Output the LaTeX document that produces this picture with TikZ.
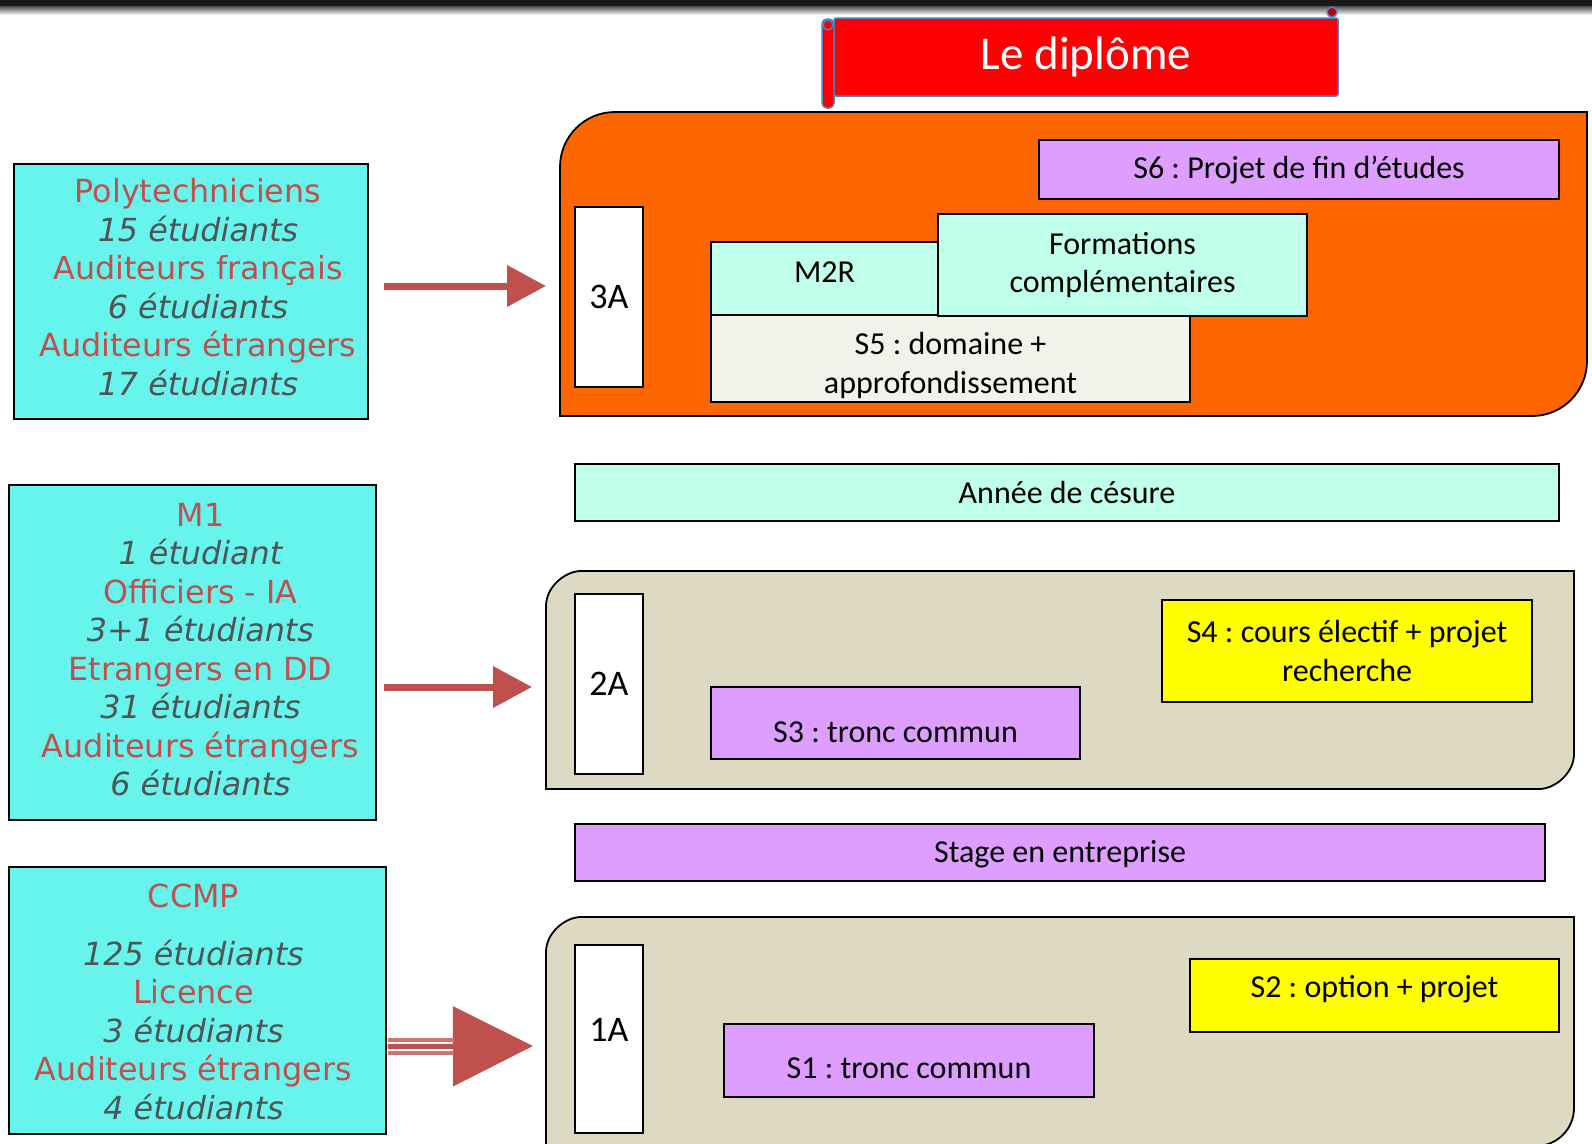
\documentclass[tikz,border=0pt]{standalone}
\usepackage{fontspec}
\setmainfont{Carlito}
\newfontfamily\verdfont{DejaVu Sans}
\usetikzlibrary{arrows.meta,positioning}
\definecolor{orangebg}{RGB}{255,102,0}
\definecolor{beigebg}{RGB}{221,217,195}
\definecolor{cyanbox}{RGB}{103,244,236}
\definecolor{aquabox}{RGB}{193,255,237}
\definecolor{lilacbox}{RGB}{222,158,255}
\definecolor{creambox}{RGB}{242,242,235}
\definecolor{yellowbox}{RGB}{255,255,0}
\definecolor{arrowred}{RGB}{192,80,77}
\definecolor{cohortgray}{RGB}{80,84,84}
\definecolor{scrollblue}{RGB}{79,129,189}
\newcommand{\grp}[1]{\textcolor{arrowred}{#1}}
\newcommand{\nbr}[1]{\textcolor{cohortgray}{\itshape #1}}
\frenchspacing
\tikzset{
  cohort/.style={rectangle,draw=black,line width=1.5pt,fill=cyanbox,inner sep=0pt},
  cohorttext/.style={inner sep=0pt,align=center,
    font=\verdfont\fontsize{31.8}{38.5}\selectfont},
  yearbox/.style={rectangle,draw=black,line width=1.5pt,fill=white,
    inner sep=0pt,minimum width=68pt,font=\fontsize{36}{40}\selectfont},
  semester/.style={rectangle,draw=black,line width=1.8pt,inner sep=0pt,
    align=center,font=\fontsize{32}{38.3}\selectfont},
  container/.style={draw=black,line width=1.8pt},
  fatarrow/.style={draw=arrowred,line width=7pt,
    -{Triangle[length=39pt,width=40pt]}}
}

\begin{document}
\begin{tikzpicture}[x=1pt,y=-1pt]
  \useasboundingbox (0,0) rectangle (1592,1143);
  % bar along the top
  \fill[black!90] (0,0) rectangle (1592,6);
  \shade[top color=black!70,bottom color=white] (0,6) rectangle (1592,15);

  % title scroll
  \node[rectangle,fill=red,draw=scrollblue,line width=1.5pt,rounded corners=2pt,
    minimum width=504pt,minimum height=78pt,text=white,
    font=\fontsize{47}{50}\selectfont] (titre) at (1086,57) {Le diplôme};
  \draw[fill=red,draw=scrollblue,line width=1.5pt,rounded corners=5pt]
    (822,19) rectangle (834,108);
  \draw[draw=scrollblue,line width=1.5pt] (828,25) circle (5pt);
  \draw[fill=red!75!black,draw=scrollblue,line width=1.5pt] (1332,12) circle (5pt);

  % year containers
  \draw[container,fill=orangebg]
    (560,416) -- (560,167) .. controls (560,136.6) and (584.6,112) .. (615,112)
    -- (1587,112) -- (1587,361) .. controls (1587,391.4) and (1562.4,416) .. (1532,416)
    -- cycle;
  \draw[container,fill=beigebg]
    (546,789) -- (546,606) .. controls (546,586.7) and (565.3,571) .. (581,571)
    -- (1574,571) -- (1574,754) .. controls (1574,773.3) and (1554.7,789) .. (1539,789)
    -- cycle;
  \draw[container,fill=beigebg]
    (546,1146) -- (546,952) .. controls (546,932.7) and (565.3,917) .. (581,917)
    -- (1574,917) -- (1574,1108) .. controls (1574,1129) and (1557,1146) .. (1536,1146)
    -- cycle;

  % 3A
  \node[yearbox,minimum height=180pt] (y3) at (609,297) {3A};
  \node[semester,fill=lilacbox,minimum width=520pt,minimum height=59pt]
    (s6) at (1299,169.5) {S6 : Projet de fin d’études};
  \node[semester,fill=creambox,minimum width=479pt,minimum height=87pt]
    (s5) at (950.5,358.5) {\rule{0pt}{36pt}S5 : domaine +\\approfondissement};
  \node[semester,fill=aquabox,minimum width=227pt,minimum height=73pt,
    text height=14pt,text depth=6pt] (m2r) at (824.5,278.5) {M2R};
  \node[semester,fill=aquabox,minimum width=369pt,minimum height=102pt]
    (formc) at (1122.5,265) {Formations\\complémentaires};

  % between the years
  \node[semester,fill=aquabox,minimum width=984pt,minimum height=57pt]
    (cesure) at (1067,492.5) {Année de césure};
  \node[semester,fill=lilacbox,minimum width=970pt,minimum height=57pt,
    text height=26pt,text depth=6.5pt] (stage) at (1060,852.5) {Stage en entreprise};

  % 2A
  \node[yearbox,minimum height=180pt] (y2) at (609,684) {2A};
  \node[semester,fill=yellowbox,minimum width=370pt,minimum height=102pt]
    (s4) at (1347,651) {S4 : cours électif + projet\\recherche};
  \node[semester,fill=lilacbox,minimum width=369pt,minimum height=72pt,
    text height=38pt,text depth=0pt] (s3) at (895.5,723) {S3 : tronc commun};

  % 1A
  \node[yearbox,minimum height=188pt,text height=23pt,text depth=18pt]
    (y1) at (609,1039) {1A};
  \node[semester,fill=yellowbox,minimum width=369pt,minimum height=73pt,
    text height=20pt,text depth=16.5pt] (s2) at (1374.5,995.5) {S2 : option + projet};
  \node[semester,fill=lilacbox,minimum width=370pt,minimum height=73pt,
    text height=36pt,text depth=0pt] (s1) at (909,1060.5) {S1 : tronc commun};

  % intake groups
  \node[cohort,minimum width=354pt,minimum height=255pt] (poly) at (191,291.5) {};
  \node[cohorttext] (polytxt) at ([xshift=7pt,yshift=4.5pt]poly.center)
    {\grp{Polytechniciens}\\\nbr{15 étudiants}\\\grp{Auditeurs français}\\
     \nbr{6 étudiants}\\\grp{Auditeurs étrangers}\\\nbr{17 étudiants}};
  \node[cohort,minimum width=367pt,minimum height=335pt] (mone) at (192.5,652.5) {};
  \node[cohorttext] (monetxt) at ([xshift=8pt,yshift=3pt]mone.center)
    {\grp{M1}\\\nbr{1 étudiant}\\\grp{Officiers - IA}\\\nbr{3+1 étudiants}\\
     \grp{Etrangers en DD}\\\nbr{31 étudiants}\\\grp{Auditeurs étrangers}\\
     \nbr{6 étudiants}};
  \node[cohort,minimum width=377pt,minimum height=267pt] (ccmp) at (197.5,1000.5) {};
  \node[cohorttext] (ccmptxt) at ([xshift=-4pt,yshift=-1.5pt]ccmp.center)
    {\grp{CCMP}\\[19pt]\nbr{125 étudiants}\\\grp{Licence}\\\nbr{3 étudiants}\\
     \grp{Auditeurs étrangers}\\\nbr{4 étudiants}};

  % entry arrows
  \coordinate (in3) at (546,286);
  \coordinate (in2) at (532,687);
  \coordinate (in1) at (533,1046);
  \draw[fatarrow] ([xshift=15pt,yshift=5.5pt]poly.east) -- (in3);
  \draw[fatarrow] ([xshift=7pt,yshift=-34.5pt]mone.east) -- (in2);
  \draw[draw=arrowred,line width=5pt,-{Triangle[length=80pt,width=79pt]}]
    ([xshift=1pt,yshift=-46pt]ccmp.east) -- (in1);
  \draw[draw=arrowred!80,line width=4pt]
    ([xshift=1pt,yshift=-39.5pt]ccmp.east) -- ++(66,0);
  \draw[draw=arrowred!80,line width=3.5pt]
    ([xshift=1pt,yshift=-52.5pt]ccmp.east) -- ++(66,0);
\end{tikzpicture}
\end{document}
